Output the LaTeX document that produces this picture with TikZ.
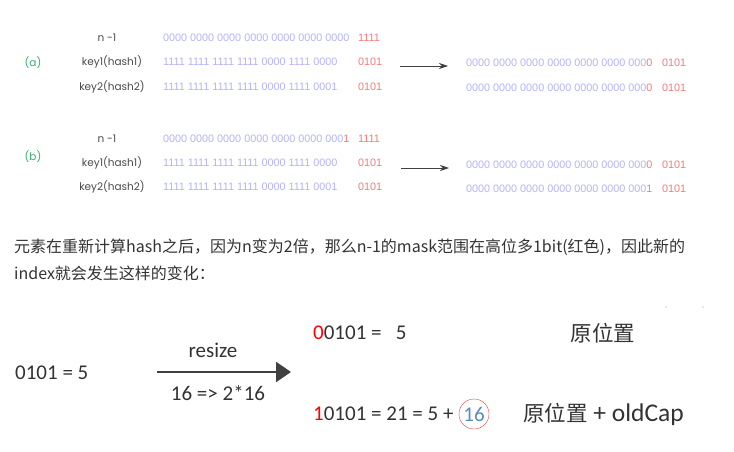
\documentclass[tikz,border=0pt]{standalone}
\usepackage{fontspec}
\setmainfont{Carlito}
\newfontfamily\cjk{Noto Sans CJK SC}
\newfontfamily\gothic{Poppins}
\newfontfamily\digits{Liberation Sans}
\usetikzlibrary{arrows.meta}
\definecolor{bitblue}{HTML}{B4B4F5}
\definecolor{bitred}{HTML}{F47C7C}
\definecolor{taggreen}{HTML}{3AAE6E}
\definecolor{labelgray}{HTML}{4A4A4A}
\definecolor{textgray}{HTML}{333333}
\definecolor{circblue}{HTML}{5A8DBF}
\definecolor{circred}{HTML}{E04848}
\tikzset{
  rowlabel/.style={text=labelgray, font=\gothic\fontsize{10.5}{12}\selectfont, inner sep=0pt},
  tag/.style={text=taggreen, font=\gothic\fontsize{10.5}{12}\selectfont, inner sep=0pt},
  bits/.style={text=bitblue, font=\digits\fontsize{10.8}{12}\selectfont, anchor=west, inner sep=0pt},
  lowbits/.style={text=bitred, font=\digits\fontsize{10.8}{12}\selectfont, anchor=west, inner sep=0pt},
  para/.style={text=textgray, font=\cjk\fontsize{16}{18}\selectfont, anchor=west, inner sep=0pt},
  big/.style={text=textgray, font=\fontsize{21}{24}\selectfont, inner sep=0pt},
}
\begin{document}
\begin{tikzpicture}[x=1pt,y=-1pt]
      \fill [white] (0,0) rectangle (734,452);
      \useasboundingbox (0,0) rectangle (734,452);
      % (a)
      \node (taga) [tag] at (33,63) {(a)};
      \node (amask) [rowlabel] at (107,38) {n -1};
      \node (akey1) [rowlabel] at (112,62) {key1(hash1)};
      \node (akey2) [rowlabel] at (112,87) {key2(hash2)};
      \node (amaskbits) [bits] at (163,38) {0000 0000 0000 0000 0000 0000 0000};
      \node (akey1bits) [bits] at (163,62) {1111 1111 1111 1111 0000 1111 0000};
      \node (akey2bits) [bits] at (163,87) {1111 1111 1111 1111 0000 1111 0001};
      \node (amasklow) [lowbits] at (358,38) {1111};
      \node (akey1low) [lowbits] at (358,62) {0101};
      \node (akey2low) [lowbits] at (358,87) {0101};
      \coordinate (aarrowfrom) at (400,66);
      \coordinate (aarrowto) at (448,66);
      \draw [-{Stealth[length=9pt,width=6pt]}, thick, black!75] (aarrowfrom) -- (aarrowto);
      \node (aidx1) [bits] at (466,63) {0000 0000 0000 0000 0000 0000 000{\color{bitred}0}};
      \node (aidx2) [bits] at (466,88) {0000 0000 0000 0000 0000 0000 000{\color{bitred}0}};
      \node (aidx1low) [lowbits] at (662,63) {0101};
      \node (aidx2low) [lowbits] at (662,88) {0101};
      % (b)
      \node (tagb) [tag] at (33,157) {(b)};
      \node (bmask) [rowlabel] at (107,139) {n -1};
      \node (bkey1) [rowlabel] at (112,163) {key1(hash1)};
      \node (bkey2) [rowlabel] at (112,187) {key2(hash2)};
      \node (bmaskbits) [bits] at (163,139) {0000 0000 0000 0000 0000 0000 000{\color{bitred}1}};
      \node (bkey1bits) [bits] at (163,163) {1111 1111 1111 1111 0000 1111 0000};
      \node (bkey2bits) [bits] at (163,187) {1111 1111 1111 1111 0000 1111 0001};
      \node (bmasklow) [lowbits] at (358,139) {1111};
      \node (bkey1low) [lowbits] at (358,163) {0101};
      \node (bkey2low) [lowbits] at (358,187) {0101};
      \coordinate (barrowfrom) at (401,168);
      \coordinate (barrowto) at (449,168);
      \draw [-{Stealth[length=9pt,width=6pt]}, thick, black!75] (barrowfrom) -- (barrowto);
      \node (bidx1) [bits] at (466,165) {0000 0000 0000 0000 0000 0000 000{\color{bitred}0}};
      \node (bidx2) [bits] at (466,189) {0000 0000 0000 0000 0000 0000 000{\color{bitred}1}};
      \node (bidx1low) [lowbits] at (662,165) {0101};
      \node (bidx2low) [lowbits] at (662,189) {0101};
      % text
      \node (line1) [para] at (14,247) {元素在重新计算hash之后，因为n变为2倍，那么n-1的mask范围在高位多1bit(红色)，因此新的};
      \node (line2) [para] at (14,273) {index就会发生这样的变化：};
      % resize
      \node (old) [big, anchor=west] at (15,373) {0101 = 5};
      \coordinate (resizefrom) at (157,372);
      \coordinate (resizeto) at (291,372);
      \draw [-{Triangle[length=15pt,width=20pt]}, line width=2.2pt, black!75] (resizefrom) -- (resizeto);
      \node (resize) [big] at (213,350) {resize};
      \node (cap) [big] at (218,393) {16 => 2*16};
      \node (low) [big, anchor=west] at (313,333) {{\color{red}0}0101 = \ \ 5};
      \node (lowpos) [big, font=\cjk\fontsize{21.5}{24}\selectfont] at (603,333) {原位置};
      \node (high) [big, anchor=west] at (313,414) {{\color{red}1}0101 = 21 = 5 +};
      \node (sixteen) [big, circle, draw=circred, thin, text=circblue, minimum size=30pt] at (474,414) {16};
      \node (highpos) [big, anchor=west, font=\fontsize{25.5}{27}\selectfont] at (523,414) {{\cjk\fontsize{21.5}{24}\selectfont 原位置} + oldCap};
      \fill [black!40] (666,307) circle (0.6pt);
      \fill [black!40] (703,307) circle (0.6pt);
    \end{tikzpicture}
\end{document}
